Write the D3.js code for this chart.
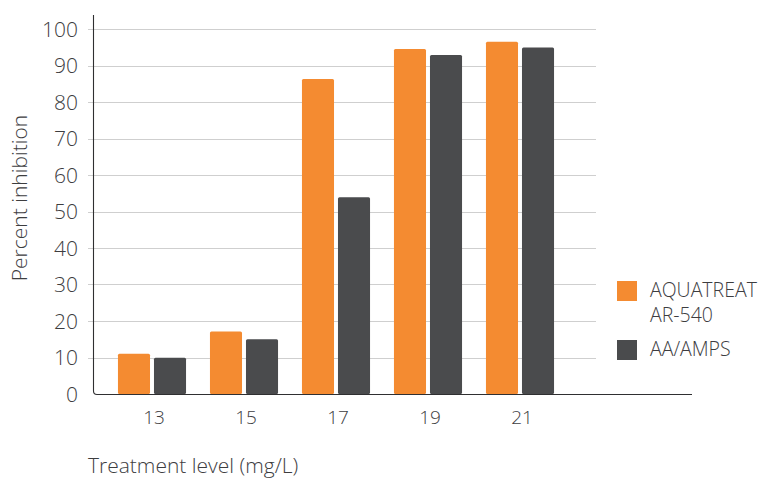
<!DOCTYPE html>
<html>
<head>
<meta charset="utf-8">
<script src="https://cdn.jsdelivr.net/npm/d3@7"></script>
<style>
  html, body { margin: 0; padding: 0; background: #fff; }
  svg text { font-family: "Open Sans", Lato, sans-serif; font-weight: 300; fill: #3d3d3f; }
</style>
</head>
<body>
<svg id="chart" width="764" height="482"></svg>
<script>
const categories = ["13", "15", "17", "19", "21"];
const seriesNames = ["AQUATREAT AR-540", "AA/AMPS"];
const aquatreat = [11.0, 17.1, 86.3, 94.5, 96.5];
const aaAmps = [9.9, 15.0, 53.9, 92.9, 94.9];
const yTicks = [0, 10, 20, 30, 40, 50, 60, 70, 80, 90, 100];
const colors = ["#f48b31", "#4a4b4d"];

const svg = d3.select("#chart");
const series = [aquatreat, aaAmps];

const y = d3.scaleLinear().domain([0, 100]).range([394, 29]);
const x = d3.scaleBand().domain(categories).range([106, 566]).paddingInner(0.26).paddingOuter(0.13);
const xs = d3.scaleBand().domain(d3.range(series.length)).range([0, x.bandwidth()]).paddingInner(0.11);

// gridlines
svg.append("g").selectAll("line").data(yTicks.filter(d => d > 0)).join("line")
  .attr("x1", 88).attr("x2", 596)
  .attr("y1", d => Math.round(y(d)) + 0.5).attr("y2", d => Math.round(y(d)) + 0.5)
  .attr("stroke", "#cfcfcf").attr("stroke-width", 1.2);

// y tick labels
svg.append("g").selectAll("text").data(yTicks).join("text")
  .attr("x", 78).attr("y", d => y(d)).attr("dy", "0.36em")
  .attr("text-anchor", "end").attr("font-size", 21).text(d => d);

// bars
const groups = svg.append("g").selectAll("g").data(categories).join("g")
  .attr("transform", d => `translate(${x(d)},0)`);
groups.selectAll("rect").data((c, i) => series.map((s, k) => ({ k, v: s[i] }))).join("rect")
  .attr("x", d => xs(d.k)).attr("width", xs.bandwidth())
  .attr("y", d => y(d.v)).attr("height", d => y(0) - y(d.v))
  .attr("rx", 1.5).attr("fill", d => colors[d.k]);

// axes lines (left + bottom with rounded corner)
svg.append("path")
  .attr("d", `M93.5,15 V${y(0) - 3} Q93.5,${y(0) + 0.5} 97,${y(0) + 0.5} H692`)
  .attr("fill", "none").attr("stroke", "#2f2f31").attr("stroke-width", 1.1);

// x tick labels
svg.append("g").selectAll("text").data(categories).join("text")
  .attr("x", d => x(d) + x.bandwidth() / 2 + 2).attr("y", 424)
  .attr("text-anchor", "middle").attr("font-size", 19).text(d => d);

// axis titles
svg.append("text").attr("transform", "translate(27,198) rotate(-90)")
  .attr("text-anchor", "middle").attr("font-size", 21).text("Percent inhibition");
svg.append("text").attr("x", 88).attr("y", 473)
  .attr("font-size", 21).text("Treatment level (mg/L)");

// legend
const legendLines = [["AQUATREAT", "AR-540"], ["AA/AMPS"]];
const legendTop = [281, 340];
const lg = svg.append("g");
legendLines.forEach((lines, k) => {
  lg.append("rect").attr("x", 617).attr("y", legendTop[k]).attr("width", 20).attr("height", 20)
    .attr("fill", colors[k]);
  lines.forEach((t, j) => {
    lg.append("text").attr("x", 650).attr("y", legendTop[k] + 16 + j * 25)
      .attr("font-size", 19.5).text(t);
  });
});
</script>
</body>
</html>
